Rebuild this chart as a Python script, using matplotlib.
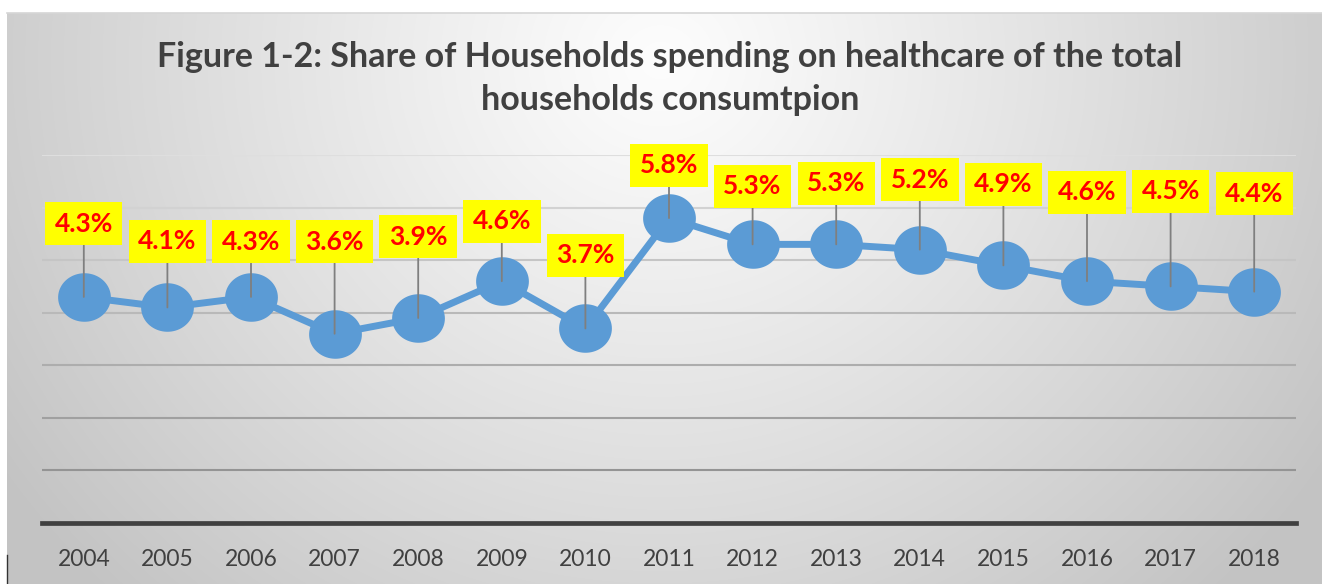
import numpy as np
import matplotlib.pyplot as plt
from matplotlib.path import Path
from matplotlib.lines import Line2D

# data
years = [str(y) for y in range(2004, 2019)]
share = [4.3, 4.1, 4.3, 3.6, 3.9, 4.6, 3.7, 5.8, 5.3, 5.3, 5.2, 4.9, 4.6, 4.5, 4.4]
point_labels = [f'{v:.1f}%' for v in share]

# how far each data label sits above its point (pixels, like the Excel layout)
label_dy = [73, 66, 55, 92, 81, 60, 73, 53, 58, 61, 70, 81, 89, 95, 98]

title_lines = ['Figure 1-2: Share of Households spending on healthcare of the total',
               'households consumtpion']

W, H = 1322, 584
plt.rcParams['font.family'] = ['Lato', 'DejaVu Sans']
fig = plt.figure(figsize=(W / 100, H / 100), dpi=100)
fig.patch.set_facecolor('white')

# radial grey background of the chart area
bg = fig.add_axes([7 / W, 0, 1 - 7 / W, (H - 13) / H], zorder=-10)
xx, yy = np.meshgrid(np.arange(7, W), np.arange(13, H))
d = np.sqrt(((xx - 660) / 800.0) ** 2 + ((yy - 60) / 750.0) ** 2)
g = (253 - 58 * np.clip(d, 0, 1) ** 1.1) / 255.0
bg.imshow(np.dstack([g, g, g]), aspect='auto', extent=[0, 1, 0, 1])
bg.axis('off')
fig.add_artist(Line2D([7 / W, 1], [(H - 13) / H] * 2, color='#d6d6d6', lw=1.2))
fig.add_artist(Line2D([7 / W, 7 / W], [0, 29 / H], color='#333333', lw=1))

# main plot
ax = fig.add_axes([42 / W, (H - 523) / H, (1296 - 42) / W, (523 - 155) / H])
ax.patch.set_alpha(0)
x = np.arange(len(years))
ax.set_xlim(-0.5, len(years) - 0.5)
ax.set_ylim(0, 7)

# gridlines, lighter towards the top like the original
for lev in range(1, 8):
    c = 0.58 + 0.29 * (lev - 1) / 6
    ax.axhline(lev, color=(c, c, c), lw=1.5, zorder=0)

t = np.linspace(0, 2 * np.pi, 80)
ellipse = Path(np.column_stack([np.cos(t), 0.92 * np.sin(t)]))
ax.plot(x, share, color='#5b9bd5', lw=5, marker=ellipse, markersize=38,
        markeredgewidth=0, zorder=2)

for xi, v, lab, dy in zip(x, share, point_labels, label_dy):
    ax.annotate(lab, xy=(xi, v), xytext=(0, dy * 0.72), textcoords='offset points',
                ha='center', va='center', fontsize=19, fontweight='bold',
                color='#ff0000', zorder=5,
                bbox=dict(boxstyle='square,pad=0.36', fc='#ffff00', ec='none'),
                arrowprops=dict(arrowstyle='-', color='#7f7f7f', lw=1.3,
                                shrinkA=0, shrinkB=0))

ax.set_xticks(x)
ax.set_xticklabels(years)
ax.set_yticks([])
ax.tick_params(axis='x', length=0, pad=19, labelsize=16.5, labelcolor='#404040')
for s in ['top', 'right', 'left']:
    ax.spines[s].set_visible(False)
ax.spines['bottom'].set_color('#404040')
ax.spines['bottom'].set_linewidth(3.4)

for line, base in zip(title_lines, [67, 110]):
    fig.text(670 / W, 1 - base / H, line, ha='center', va='baseline',
             fontsize=24.5, fontweight='bold', color='#404040')

fig.savefig('out.png', dpi=100)
